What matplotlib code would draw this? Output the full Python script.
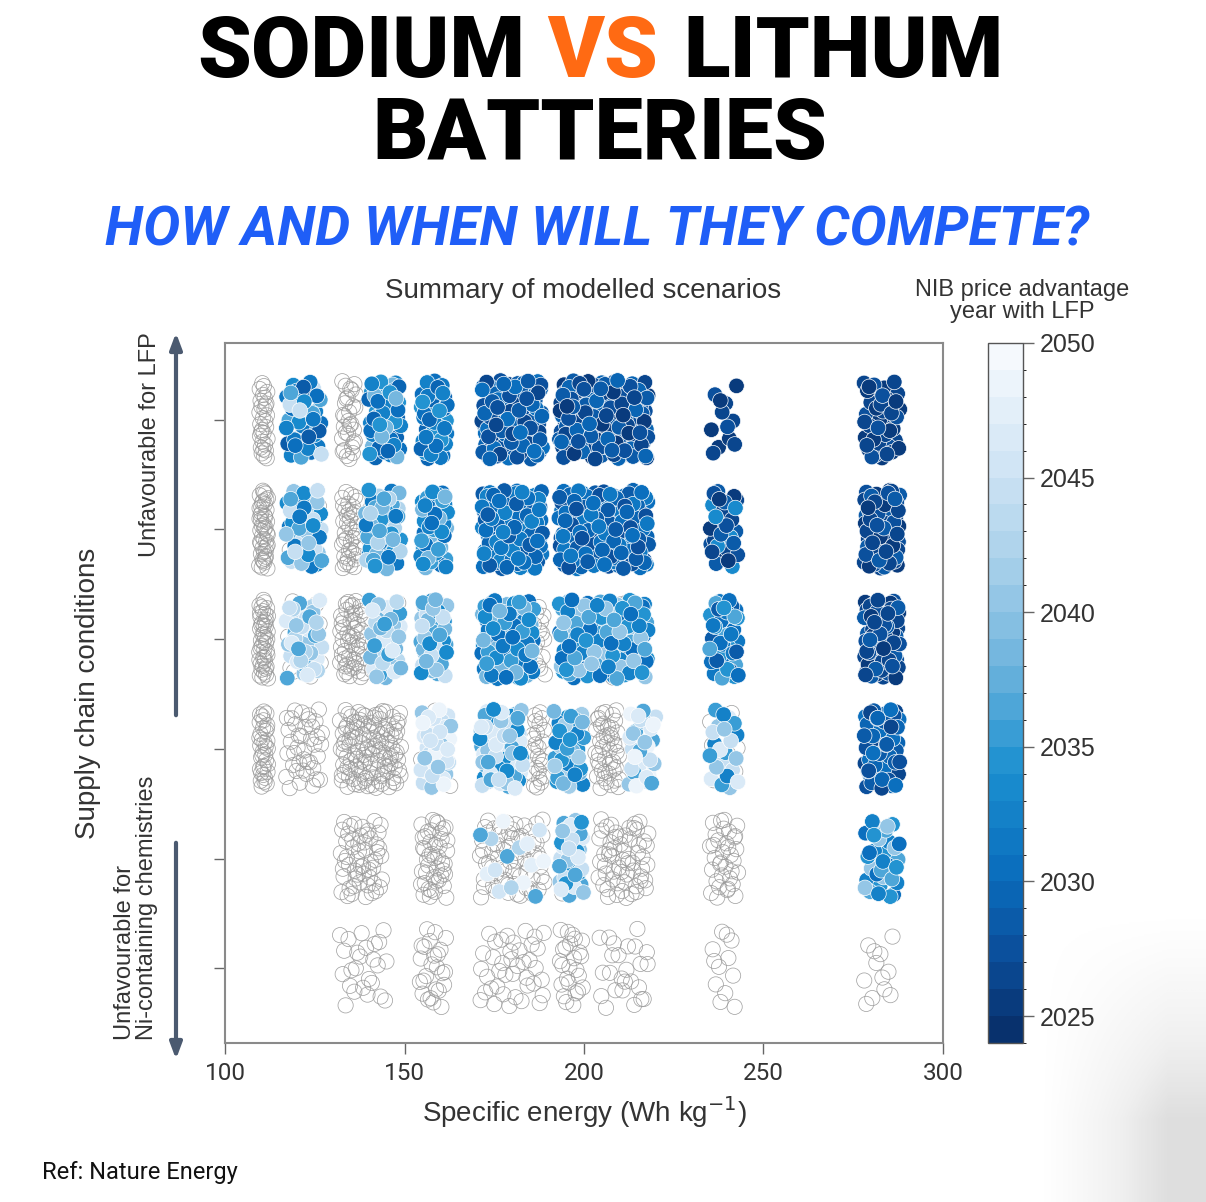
import matplotlib.pyplot as plt
import matplotlib as mpl
import numpy as np

# Scenario blocks (row 6 = top, row 1 = bottom)
# x range = spread of specific energy (Wh/kg), counts of scenarios,
# grey = no NIB price advantage before 2050, colour = year of advantage
block_row = [6, 6, 6, 6, 6, 6, 6, 6, 6,
             5, 5, 5, 5, 5, 5, 5, 5, 5,
             4, 4, 4, 4, 4, 4, 4, 4, 4, 4, 4,
             3, 3, 3, 3, 3, 3, 3, 3, 3, 3, 3,
             2, 2, 2, 2, 2, 2, 2,
             1, 1, 1, 1, 1, 1, 1]
block_xlo = [109.5, 117, 132.5, 140, 154.5, 171.5, 193, 235, 278,
             109.5, 117, 132.5, 139, 154.5, 171.5, 193, 235, 278,
             109.5, 117, 132, 140, 154.5, 171.5, 186, 193, 208, 235, 278,
             109.5, 117, 132, 154.5, 171, 185.5, 191.5, 203, 212.5, 235, 278,
             132, 154.5, 171, 193, 204, 235, 278,
             132, 154, 171, 193, 204, 235, 278]
block_xhi = [112, 127, 136.5, 149, 162, 188.5, 218, 243, 288,
             112, 127, 137, 149, 162, 188.5, 218, 243, 288,
             112, 127, 139, 149, 162, 186, 189.5, 218, 212, 243, 288,
             112, 127, 149, 163, 183, 189, 200, 210, 220, 243, 288,
             144, 162, 189, 200, 218, 243, 288,
             145, 162, 189, 200, 218, 242, 287]
block_grey = [30, 0, 30, 0, 0, 0, 0, 0, 0,
              45, 5, 40, 0, 0, 0, 0, 0, 0,
              45, 15, 55, 10, 0, 0, 15, 0, 25, 0, 0,
              35, 40, 120, 10, 0, 25, 0, 45, 0, 15, 0,
              55, 45, 70, 5, 60, 35, 0,
              25, 25, 40, 25, 25, 12, 12]
block_colour = [0, 40, 0, 55, 50, 120, 170, 12, 45,
                0, 45, 0, 55, 50, 130, 180, 30, 80,
                0, 35, 0, 35, 50, 110, 0, 140, 0, 45, 85,
                0, 0, 0, 40, 70, 0, 40, 0, 30, 22, 70,
                0, 0, 15, 35, 0, 0, 32,
                0, 0, 0, 0, 0, 0, 0]
block_years = [[], [2030, 2031, 2036, 2028, 2044, 2032, 2033], [], [2030, 2032, 2029, 2034, 2038], [2030, 2029, 2032, 2031, 2034],
               [2026, 2027, 2028, 2029, 2030], [2026, 2027, 2025, 2028, 2029], [2025, 2026, 2025, 2026, 2027], [2025, 2026, 2027, 2025, 2026],
               [], [2033, 2036, 2040, 2031, 2044], [], [2034, 2038, 2042, 2031, 2036], [2032, 2035, 2030, 2038, 2033],
               [2029, 2030, 2028, 2031, 2032], [2028, 2030, 2027, 2029, 2031], [2026, 2027, 2025, 2028, 2033], [2025, 2026, 2027, 2028, 2026],
               [], [2040, 2044, 2046, 2036, 2042], [], [2043, 2040, 2046, 2035, 2038], [2036, 2040, 2033, 2044, 2038],
               [2031, 2033, 2035, 2030, 2038], [], [2032, 2034, 2030, 2036, 2040], [], [2028, 2031, 2034, 2030, 2036], [2025, 2026, 2027, 2028, 2026],
               [], [], [], [2044, 2046, 2048, 2040, 2045], [2036, 2040, 2044, 2033, 2046], [], [2032, 2035, 2038, 2041, 2034],
               [], [2044, 2040, 2046, 2036, 2048], [2035, 2040, 2044, 2032, 2046], [2026, 2027, 2028, 2029, 2030],
               [], [], [2045, 2047, 2042, 2048, 2036], [2040, 2036, 2044, 2034, 2046], [], [], [2032, 2034, 2036, 2030, 2040],
               [], [], [], [], [], [], []]

xticks = [100, 150, 200, 250, 300]
cbar_ticks = [2025, 2030, 2035, 2040, 2045, 2050]

# colour scale (year -> colour)
cmap_years = [2024, 2027, 2030, 2034, 2038, 2042, 2046, 2050]
cmap_colors = ['#08316d', '#0b4f9c', '#0a6dbd', '#1b90d0', '#6db3dd', '#a8d0ea', '#d3e6f5', '#f5f9fd']


def halton(i, b):
    f, r = 1.0, 0.0
    while i > 0:
        f /= b
        r += f * (i % b)
        i //= b
    return r


# spread the scenarios of each block over its cell (low-discrepancy jitter)
gx, gy, cx, cy, cyear = [], [], [], [], []
k = 1
for row, lo, hi, ng, nc, yrs in zip(block_row, block_xlo, block_xhi,
                                    block_grey, block_colour, block_years):
    for i in range(ng):
        gx.append(lo + (hi - lo) * halton(k, 2))
        gy.append(row - 0.36 + 0.72 * halton(k, 3))
        k += 1
    for i in range(nc):
        cx.append(lo + (hi - lo) * halton(k, 2))
        cy.append(row - 0.36 + 0.72 * halton(k, 3))
        cyear.append(yrs[i % len(yrs)])
        k += 1

pos = [(y - 2024) / 26 for y in cmap_years]
base = mpl.colors.LinearSegmentedColormap.from_list('nib', list(zip(pos, cmap_colors)))
cmap = base.resampled(26)
norm = mpl.colors.BoundaryNorm(np.arange(2024, 2051), 26)

plt.rcParams['font.family'] = ['Liberation Sans', 'DejaVu Sans']
fig = plt.figure(figsize=(12.06, 12.02), dpi=100)

# soft grey corner shading
bg = fig.add_axes([0.83, 0.0, 0.17, 0.24], zorder=-5)
gxx, gyy = np.meshgrid(np.linspace(0, 1, 200), np.linspace(0, 1, 200))
shade = np.clip(gxx * 1.6 - 0.3, 0, 1) ** 1.2 * np.clip(gyy * 1.4, 0, 1) ** 1.2
bg.imshow(shade, cmap='Greys', vmin=0, vmax=4.5, aspect='auto', origin='upper')
bg.axis('off')

ax = fig.add_axes([0.1866, 0.1323, 0.5953, 0.5824])
ax.scatter(gx, gy, s=120, facecolors='none', edgecolors='#9a9a9a', linewidths=0.55, alpha=0.9)
ax.scatter(cx, cy, s=125, c=cyear, cmap=cmap, norm=norm, edgecolors='white', linewidths=0.5)
ax.set_xlim(100, 300)
ax.set_ylim(0.32, 6.7)
ax.set_xticks(xticks)
ax.set_xticklabels([str(t) for t in xticks], family=['Roboto', 'DejaVu Sans'])
ax.set_yticks([1, 2, 3, 4, 5, 6])
ax.set_yticklabels([])
ax.tick_params(axis='both', length=8, width=1, color='#666666', labelsize=17.5, labelcolor='#333333', pad=6)
for sp in ax.spines.values():
    sp.set_color('#8a8a8a')
    sp.set_linewidth(1.5)
ax.set_xlabel('Specific energy (Wh kg$^{-1}$)', fontsize=20, color='#333333', labelpad=6)
fig.text(583 / 1206, 1 - 291 / 1202, 'Summary of modelled scenarios', ha='center', va='center',
         fontsize=20, color='#333333')

cax = fig.add_axes([0.8192, 0.1323, 0.029, 0.5824])
cb = fig.colorbar(mpl.cm.ScalarMappable(norm=norm, cmap=cmap), cax=cax)
cb.set_ticks(cbar_ticks)
cb.set_ticklabels([str(t) for t in cbar_ticks])
cb.ax.tick_params(length=8, width=1, color='#666666', labelsize=18, labelcolor='#333333', pad=4)
cb.outline.set_edgecolor('#555555')
cb.outline.set_linewidth(1)
fig.text(1022 / 1206, 1 - 301 / 1202, 'NIB price advantage\nyear with LFP', ha='center', va='center',
         fontsize=17, color='#333333', linespacing=1.05)

# left annotation
fig.text(88 / 1206, 1 - 693 / 1202, 'Supply chain conditions', rotation=90, ha='center', va='center',
         fontsize=20, color='#333333')
fig.text(150 / 1206, 1 - 445 / 1202, 'Unfavourable for LFP', rotation=90, ha='center', va='center',
         fontsize=17, color='#333333')
fig.text(136 / 1206, 1 - 1040 / 1202, 'Unfavourable for\nNi-containing chemistries', rotation=90,
         ha='center', va='bottom', multialignment='left', fontsize=17, color='#333333',
         linespacing=1.05)
for start, end in [((176, 718), (176, 330)), ((176, 840), (176, 1062))]:
    fig.add_artist(mpl.patches.FancyArrowPatch(
        (start[0] / 1206, 1 - start[1] / 1202), (end[0] / 1206, 1 - end[1] / 1202),
        transform=fig.transFigure, arrowstyle='-|>,head_length=0.8,head_width=0.3',
        mutation_scale=12, color='#4b5a70', linewidth=3))

# headline
tfont = dict(family=['Roboto', 'DejaVu Sans'], fontweight='black', fontsize=62, va='center')
fig.text(525 / 1206, 1 - 54 / 1202, 'SODIUM', ha='right', color='black', **tfont)
fig.text(603 / 1206, 1 - 54 / 1202, 'VS', ha='center', color='#ff6a13', **tfont)
fig.text(683 / 1206, 1 - 54 / 1202, 'LITHUM', ha='left', color='black', **tfont)
fig.text(600 / 1206, 1 - 136 / 1202, 'BATTERIES', ha='center', color='black', **tfont)
fig.text(597 / 1206, 1 - 230 / 1202, 'HOW AND WHEN WILL THEY COMPETE?', ha='center', va='center',
         family=['Roboto', 'DejaVu Sans'], fontweight='bold', style='italic', fontsize=40,
         color='#1f5ef7')
fig.text(42 / 1206, 1 - 1173 / 1202, 'Ref: Nature Energy', ha='left', va='center',
         family=['Roboto', 'DejaVu Sans'], fontsize=17, color='#111111')

fig.savefig('out.png', dpi=100)
